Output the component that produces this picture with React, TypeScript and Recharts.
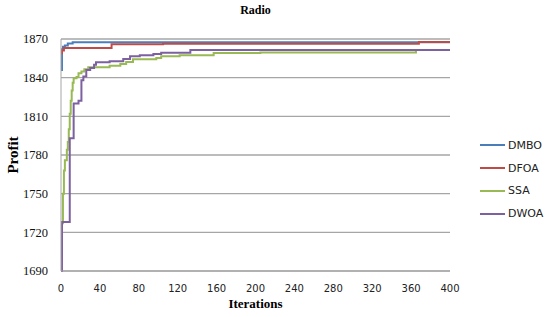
import React from 'react';
import { LineChart, Line, XAxis, YAxis, CartesianGrid } from 'recharts';

// [iteration, profit] points where the curve changes level
const DMBO_POINTS = [
    [0, 1846], [1, 1862], [2, 1864], [4, 1865], [7, 1866.5], [12, 1867.5], [400, 1867.5],
];
const DFOA_POINTS = [
    [0, 1859], [1, 1861], [3, 1863], [52, 1866], [105, 1866.3], [368, 1867.6], [400, 1867.6],
];
const SSA_POINTS = [
    [0, 1700], [1, 1727], [2, 1750], [3, 1768], [4, 1776], [6, 1784], [7, 1790], [8, 1800],
    [9, 1812], [10, 1822], [11, 1830], [12, 1836], [13, 1839.5], [16, 1840.5], [18, 1843.4],
    [21, 1844.7], [24, 1846.5], [28, 1848], [50, 1849.3], [61, 1850.6], [67, 1852.2],
    [74, 1854.3], [98, 1855.3], [103, 1856.6], [122, 1857.4], [157, 1859.1], [205, 1859.6],
    [365, 1861.5], [400, 1861.5],
];
const DWOA_POINTS = [
    [0, 1690], [1, 1728], [9, 1793], [13, 1820], [18, 1822], [21, 1838], [23, 1841],
    [26, 1846], [30, 1847.5], [34, 1850.1], [36, 1852], [50, 1852.7], [64, 1854.5],
    [71, 1856.6], [81, 1857.4], [95, 1858.4], [103, 1859.4], [133, 1861.5], [400, 1861.5],
];

const SERIES_NAMES = ['DMBO', 'DFOA', 'SSA', 'DWOA'];
const COLORS = ['#4a7ebb', '#be4b48', '#98b954', '#7d60a0'];
const X_TICKS = [0, 40, 80, 120, 160, 200, 240, 280, 320, 360, 400];
const Y_TICKS = [1690, 1720, 1750, 1780, 1810, 1840, 1870];

const toRows = (points: number[][]) => points.map(([x, y]) => ({ x, y }));
const SERIES = [DMBO_POINTS, DFOA_POINTS, SSA_POINTS, DWOA_POINTS].map(toRows);

const serif = '"Liberation Serif", "DejaVu Serif", serif';
const sans = '"DejaVu Sans", Verdana, sans-serif';

const App: React.FC = () => {
    return (
        <div style={{ position: 'absolute', left: 0, top: 0, width: 550, height: 317, background: '#fff' }}>
            <LineChart width={550} height={317} margin={{ top: 39, right: 100, bottom: 0, left: 0 }}>
                <CartesianGrid vertical={false} stroke="#a6a6a6" strokeWidth={1.3} />
                <XAxis
                    type="number"
                    dataKey="x"
                    domain={[0, 400]}
                    ticks={X_TICKS}
                    height={46}
                    tickLine={false}
                    tickSize={0}
                    tickMargin={14}
                    stroke="#a6a6a6"
                    tick={{ fill: '#222', fontSize: 10, fontFamily: sans }}
                />
                <YAxis
                    type="number"
                    domain={[1690, 1870]}
                    ticks={Y_TICKS}
                    width={61}
                    tickLine={false}
                    tickSize={0}
                    tickMargin={13}
                    stroke="#a6a6a6"
                    tick={{ fill: '#111', fontSize: 12.5, fontFamily: serif }}
                />
                {SERIES.map((rows, i) => (
                    <Line
                        key={SERIES_NAMES[i]}
                        data={rows}
                        dataKey="y"
                        name={SERIES_NAMES[i]}
                        type="stepAfter"
                        stroke={COLORS[i]}
                        strokeWidth={2}
                        dot={false}
                        activeDot={false}
                        isAnimationActive={false}
                    />
                ))}
            </LineChart>

            <div style={{ position: 'absolute', left: 0, width: 511, top: 3, textAlign: 'center', fontFamily: serif, fontWeight: 'bold', fontSize: 12 }}>
                Radio
            </div>
            <div style={{ position: 'absolute', left: 0, width: 511, top: 296, textAlign: 'center', fontFamily: serif, fontWeight: 'bold', fontSize: 13 }}>
                Iterations
            </div>
            <div
                style={{
                    position: 'absolute', left: 13, top: 155, transform: 'translate(-50%, -50%) rotate(-90deg)',
                    fontFamily: serif, fontWeight: 'bold', fontSize: 15, whiteSpace: 'nowrap',
                }}
            >
                Profit
            </div>
            <div style={{ position: 'absolute', left: 480, top: 134 }}>
                {SERIES_NAMES.map((name, i) => (
                    <div key={name} style={{ display: 'flex', alignItems: 'center', height: 22.8 }}>
                        <span style={{ display: 'inline-block', width: 25, height: 2, background: COLORS[i], marginRight: 3 }} />
                        <span style={{ fontFamily: sans, fontSize: 11, color: '#222' }}>{name}</span>
                    </div>
                ))}
            </div>
        </div>
    );
};

export default App;
